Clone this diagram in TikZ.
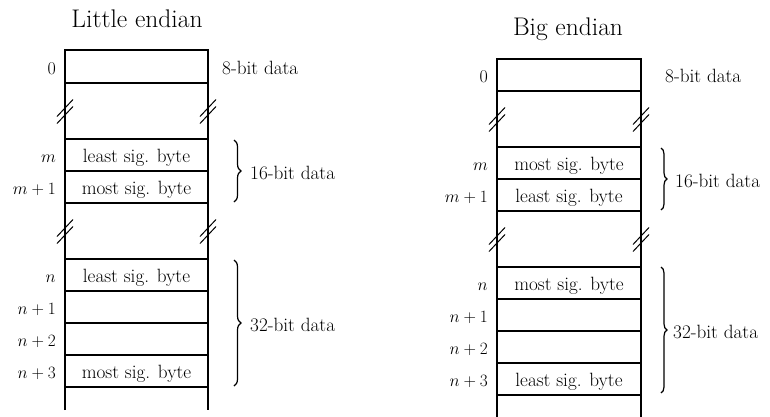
\documentclass[tikz,border=0pt]{standalone}
\usetikzlibrary{decorations.pathreplacing}
\begin{document}
\begin{tikzpicture}[x=1pt,y=-1pt,
  wall/.style={line width=2.4pt,line join=miter},
  cellline/.style={line width=1.4pt},
  brkline/.style={line width=1pt},
  txt/.style={font=\fontsize{19.2}{21}\selectfont,inner sep=0pt,anchor=base},
  addr/.style={font=\fontsize{18}{20}\selectfont,inner sep=0pt,anchor=base east},
  side/.style={txt,anchor=base west},
  ttl/.style={font=\fontsize{25.5}{28}\selectfont,inner sep=0pt,anchor=base},
  brc/.style={decorate,decoration={brace,amplitude=7pt},line width=1.2pt},
  brcs/.style={decorate,decoration={brace,amplitude=6pt},line width=1.2pt}
]
\useasboundingbox (0,0) rectangle (770,416);

% ---------------- Little endian ----------------
\node[ttl] (t1) at (137,27) {Little endian};
\draw[wall] (65,410) -- (65,50) -- (208,50) -- (208,410);
\foreach \y in {83,139,171,203,259,291,323,355,387}
  \draw[cellline] (65,\y) -- (208,\y);
\foreach \x in {65,208}
  \foreach \y in {111.5,231.5} {
    \draw[brkline] (\x-8,\y+5) -- (\x+8,\y-12);
    \draw[brkline] (\x-8,\y+12) -- (\x+8,\y-5);
  }
\node[addr] (a0) at (56,74) {0};
\node[addr] (am) at (56,162.5) {$m$};
\node[addr] (am1) at (56,194.5) {$m+1$};
\node[addr] (an) at (56,282.5) {$n$};
\node[addr] (an1) at (56,314.5) {$n+1$};
\node[addr] (an2) at (56,346.5) {$n+2$};
\node[addr] (an3) at (56,378.5) {$n+3$};
\node[txt] (c1) at (136.5,162.5) {least sig. byte};
\node[txt] (c2) at (136.5,194.5) {most sig. byte};
\node[txt] (c3) at (136.5,282.5) {least sig. byte};
\node[txt] (c4) at (136.5,378.5) {most sig. byte};
\node[side] (d8) at (222,74) {8-bit data};
\coordinate (b16a) at (234,140);
\coordinate (b16b) at (234,202);
\coordinate (b32a) at (234,260);
\coordinate (b32b) at (234,386);
\draw[brc] (b16a) -- (b16b);
\draw[brc] (b32a) -- (b32b);
\node[side] (d16) at (250,179) {16-bit data};
\node[side] (d32) at (250,331) {32-bit data};

% ---------------- Big endian ----------------
\node[ttl] (t2) at (568,35) {Big endian};
\draw[wall] (497,420) -- (497,59) -- (641,59) -- (641,420);
\foreach \y in {91,147,179,211,267,299,331,363,395}
  \draw[cellline] (497,\y) -- (641,\y);
\foreach \x in {497,641}
  \foreach \y in {119.5,239.5} {
    \draw[brkline] (\x-8,\y+5) -- (\x+8,\y-12);
    \draw[brkline] (\x-8,\y+12) -- (\x+8,\y-5);
  }
\node[addr] (b0) at (488,82.5) {0};
\node[addr] (bm) at (488,170.5) {$m$};
\node[addr] (bm1) at (488,202.5) {$m+1$};
\node[addr] (bn) at (488,290.5) {$n$};
\node[addr] (bn1) at (488,322.5) {$n+1$};
\node[addr] (bn2) at (488,354.5) {$n+2$};
\node[addr] (bn3) at (488,386.5) {$n+3$};
\node[txt] (e1) at (569,170.5) {most sig. byte};
\node[txt] (e2) at (569,202.5) {least sig. byte};
\node[txt] (e3) at (569,290.5) {most sig. byte};
\node[txt] (e4) at (569,386.5) {least sig. byte};
\node[side] (f8) at (665,82.5) {8-bit data};
\coordinate (g16a) at (661,148);
\coordinate (g16b) at (661,210);
\coordinate (g32a) at (661,267);
\coordinate (g32b) at (661,393);
\draw[brcs] (g16a) -- (g16b);
\draw[brcs] (g32a) -- (g32b);
\node[side] (f16) at (675,187) {16-bit data};
\node[side] (f32) at (673,338) {32-bit data};
\end{tikzpicture}
\end{document}
